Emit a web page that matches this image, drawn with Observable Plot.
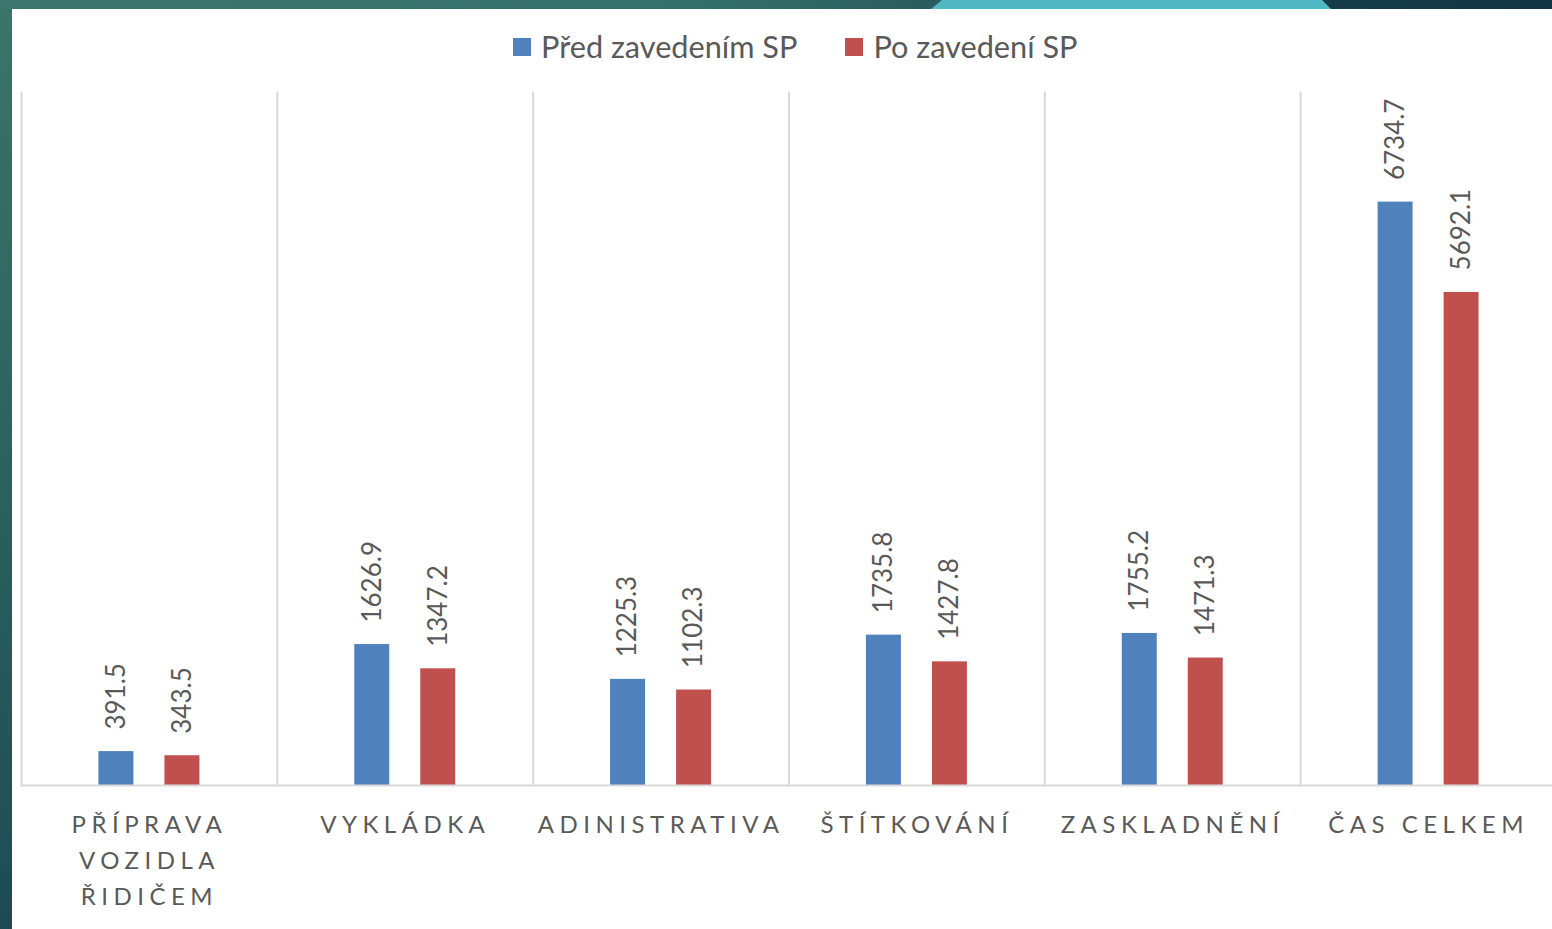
<!DOCTYPE html>
<html><head><meta charset="utf-8">
<script src="https://cdn.jsdelivr.net/npm/d3@7"></script>
<script src="https://cdn.jsdelivr.net/npm/@observablehq/plot@0.6"></script>
<style>
html,body{margin:0;padding:0;width:1552px;height:929px;overflow:hidden;}
body{position:relative;background:linear-gradient(180deg,#3b7469 0%,#2c625e 50%,#1e4b53 100%);font-family:Lato,sans-serif;}
#topbar{position:absolute;left:0;top:0;width:1552px;height:9px;background:linear-gradient(90deg,#3b776d 0%,#33706a 45%,#2a5f60 58%,#173f4c 80%,#123444 100%);}
#cyan{position:absolute;left:931px;top:0;width:400px;height:9px;background:#50b9c3;clip-path:polygon(0 9px,11px 0,391px 0,400px 9px);}
#panel{position:absolute;left:12px;top:9px;width:1540px;height:920px;background:#fff;}
#chart{position:absolute;left:0;top:0;width:1552px;height:929px;overflow:hidden;}
#chart svg{max-width:none !important;}
#legend{position:absolute;top:28px;left:513px;display:flex;align-items:center;color:#595959;font-size:30.7px;font-family:Lato,sans-serif;}
#legend .sw{width:18px;height:18px;display:inline-block;margin-right:10px;}
#legend .item{display:flex;align-items:center;margin-right:48px;}
[aria-label="fx-axis tick label"] text{letter-spacing:5.5px;}
</style>
</head><body>
<div id="topbar"></div><div id="cyan"></div>
<div id="panel"></div>
<div id="chart"></div>
<div id="legend"></div>
<script>
const categories = ["PŘÍPRAVA\nVOZIDLA\nŘIDIČEM", "VYKLÁDKA", "ADINISTRATIVA", "ŠTÍTKOVÁNÍ", "ZASKLADNĚNÍ", "ČAS CELKEM"];
const series = ["Před zavedením SP", "Po zavedení SP"];
const before = [391.5, 1626.9, 1225.3, 1735.8, 1755.2, 6734.7];
const after = [343.5, 1347.2, 1102.3, 1427.8, 1471.3, 5692.1];
const colors = ["#4F81BD", "#C0504D"];

const data = categories.flatMap((c, i) => [
  {cat: c, series: series[0], value: before[i]},
  {cat: c, series: series[1], value: after[i]}
]);

const chart = Plot.plot({
  width: 1556, height: 929,
  marginTop: 92, marginBottom: 144, marginLeft: 21, marginRight: 0,
  style: {background: "transparent", fontFamily: "Lato, sans-serif", overflow: "visible", maxWidth: "none"},
  fx: {domain: categories, padding: 0, round: false, label: null},
  x: {domain: series, paddingInner: 0.47, paddingOuter: 1.173, round: false, axis: null},
  y: {domain: [0, 8000], axis: null},
  color: {domain: series, range: colors},
  marks: [
    Plot.frame({anchor: "left", stroke: "#d9d9d9", strokeWidth: 2}),
    Plot.barY(data, {fx: "cat", x: "series", y: "value", fill: "series"}),
    Plot.ruleY([0], {stroke: "#d9d9d9", strokeWidth: 2}),
    Plot.text(data, {fx: "cat", x: "series", y: "value", text: d => d.value.toFixed(1), rotate: -90, textAnchor: "start", dy: -22, fill: "#595959", fontSize: 26}),
    Plot.axisFx({anchor: "bottom", tickSize: 0, tickPadding: 22, fontSize: 24, fill: "#595959", lineHeight: 1.5, label: null})
  ]
});
document.getElementById("chart").appendChild(chart);

const legend = document.getElementById("legend");
series.forEach((s, i) => {
  const item = document.createElement("div");
  item.className = "item";
  const sw = document.createElement("span");
  sw.className = "sw";
  sw.style.background = colors[i];
  item.appendChild(sw);
  item.appendChild(document.createTextNode(s));
  legend.appendChild(item);
});
</script>
</body></html>
